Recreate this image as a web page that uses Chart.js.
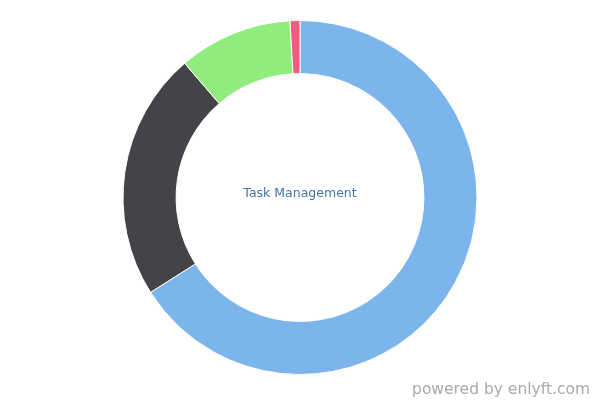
<!DOCTYPE html>
<html>
<head>
<meta charset="utf-8">
<script src="https://cdn.jsdelivr.net/npm/chart.js@4"></script>
<style>
  html, body { margin: 0; padding: 0; background: #fff; }
  #wrap { position: relative; width: 600px; height: 400px; }
  #credit {
    position: absolute; right: 10px; bottom: 2px;
    font: 15.5px "DejaVu Sans", sans-serif; color: #aaaaaa;
  }
</style>
</head>
<body>
<div id="wrap">
  <canvas id="chart" width="600" height="400"></canvas>
  <div id="credit">powered by enlyft.com</div>
</div>
<script>
// ── DATA ──────────────────────────────────────────
const labels = ['Segment A', 'Segment B', 'Segment C', 'Segment D'];
const values = [66.0, 22.7, 10.4, 0.9];
const colors = ['#7cb5ec', '#434348', '#90ed7d', '#f15c80'];
const centerLabel = 'Task Management';

// ── CENTER TEXT ───────────────────────────────────
const centerText = {
  id: 'centerText',
  afterDraw(chart) {
    const { ctx, chartArea } = chart;
    const x = (chartArea.left + chartArea.right) / 2;
    const y = (chartArea.top + chartArea.bottom) / 2 - 4;
    ctx.save();
    ctx.font = '12.5px "DejaVu Sans", sans-serif';
    ctx.fillStyle = '#4572a7';
    ctx.textAlign = 'center';
    ctx.textBaseline = 'middle';
    ctx.fillText(centerLabel, x, y);
    ctx.restore();
  }
};

new Chart(document.getElementById('chart'), {
  type: 'doughnut',
  data: {
    labels,
    datasets: [{
      data: values,
      backgroundColor: colors,
      borderColor: '#ffffff',
      borderWidth: 1,
    }]
  },
  options: {
    responsive: false,
    animation: false,
    cutout: '70%',
    layout: { padding: { top: 20, bottom: 25 } },
    plugins: {
      legend: { display: false },
      tooltip: { enabled: false }
    }
  },
  plugins: [centerText]
});
</script>
</body>
</html>
